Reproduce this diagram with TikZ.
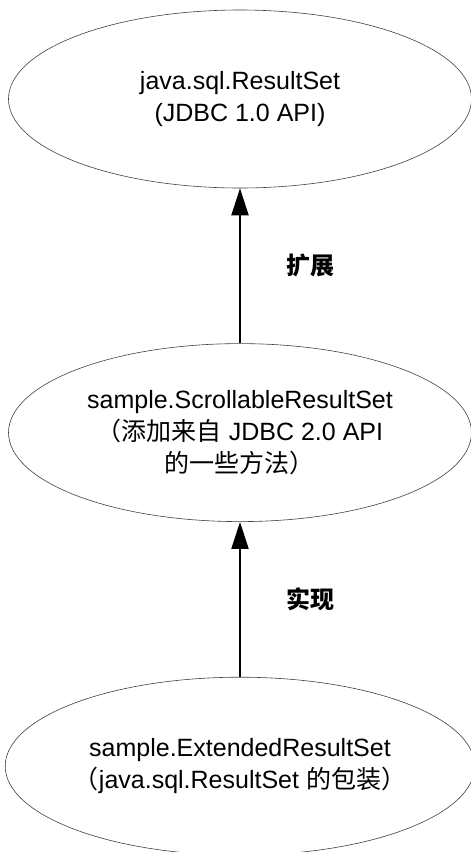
\documentclass[tikz,border=0pt]{standalone}
\usepackage{fontspec}
\setmainfont{Liberation Sans}
\newfontfamily\cjk{Noto Sans CJK SC}
\usetikzlibrary{positioning,shapes.geometric,arrows.meta}

\begin{document}
\begin{tikzpicture}[
  cls/.style={ellipse, draw=black!75, line width=0.6pt, minimum width=463pt,
    minimum height=178pt, inner sep=0pt, align=center,
    font=\fontsize{25}{32}\selectfont},
  arr/.style={line width=2pt, -{Triangle[length=27pt,width=17pt]}},
  lbl/.style={inner sep=0pt, font=\cjk\bfseries\fontsize{24}{28}\selectfont}]
\useasboundingbox (0,0) rectangle (471pt,-852pt);
\node [cls] (rs) at (240pt,-99pt) {java.sql.ResultSet\\(JDBC 1.0 API)};
\node [cls, below=155pt of rs] (scroll) {sample.ScrollableResultSet\\{\cjk（添加来自} JDBC 2.0 API\\{\cjk 的一些方法）}};
\node [cls, below=155pt of scroll] (ext) {sample.ExtendedResultSet\\{\cjk（}java.sql.ResultSet {\cjk 的包装）}};
\draw [arr] (scroll) -- (rs) node [lbl, midway, right=45pt] (extends) {扩展};
\draw [arr] (ext) -- (scroll) node [lbl, midway, right=45pt] (impl) {实现};
\end{tikzpicture}
\end{document}
